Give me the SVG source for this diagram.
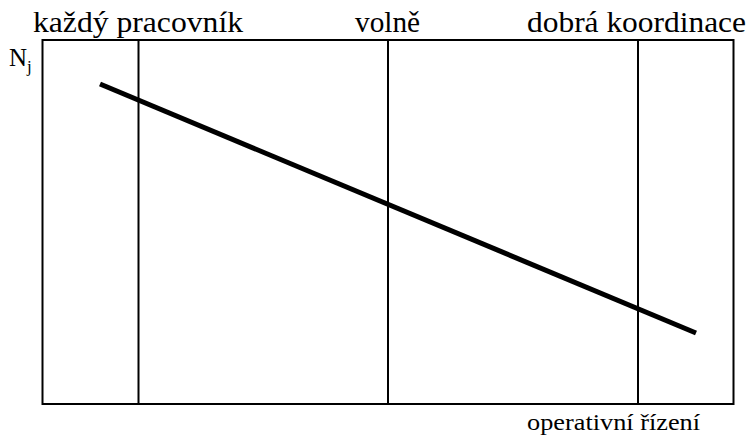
<svg xmlns="http://www.w3.org/2000/svg" width="750" height="439" viewBox="0 0 750 439">
<rect width="750" height="439" fill="#fff"/>
<g id="frame" stroke="#000" stroke-width="2" fill="none">
<rect x="42.5" y="40" width="691" height="364"/>
</g>
<g id="connectors" stroke="#000" stroke-width="2" fill="none">
<line x1="138.5" y1="40" x2="138.5" y2="404"/>
<line x1="388" y1="40" x2="388" y2="404"/>
<line x1="638" y1="40" x2="638" y2="404"/>
<line x1="100" y1="84" x2="696" y2="333" stroke-width="5"/>
</g>
<g id="labels" fill="#000">
<text x="33" y="32" font-family="Liberation Serif" font-size="30" textLength="210" lengthAdjust="spacingAndGlyphs">každý pracovník</text>
<text x="355" y="32" font-family="Liberation Serif" font-size="30" textLength="65" lengthAdjust="spacingAndGlyphs">volně</text>
<text x="527" y="32" font-family="Liberation Serif" font-size="30" textLength="219" lengthAdjust="spacingAndGlyphs">dobrá koordinace</text>
<text x="9" y="66" font-family="Liberation Serif" font-size="25">N<tspan font-size="17" dy="6">j</tspan></text>
<text x="527" y="430" font-family="Liberation Serif" font-size="23" textLength="173" lengthAdjust="spacingAndGlyphs">operativní řízení</text>
</g>
</svg>
